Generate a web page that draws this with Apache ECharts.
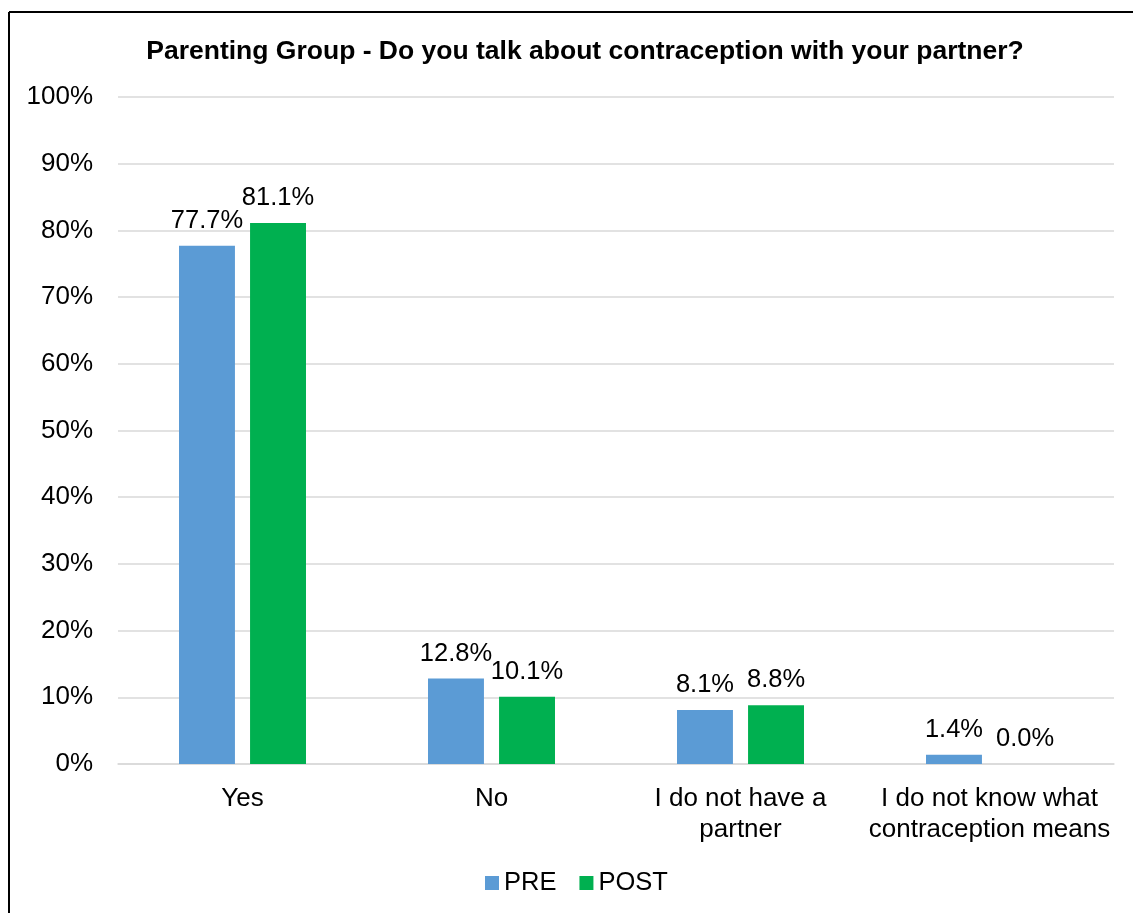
<!DOCTYPE html>
<html>
<head>
<meta charset="utf-8">
<script src="https://cdn.jsdelivr.net/npm/echarts@6/dist/echarts.min.js"></script>
<style>
  html, body { margin: 0; padding: 0; background: #ffffff; }
  #chart { width: 1133px; height: 913px; }
</style>
</head>
<body>
<div id="chart"></div>
<script>
// Survey answers, before and after the parenting group
const categories = ['Yes', 'No', 'I do not have a\npartner', 'I do not know what\ncontraception means'];
const preValues = [77.7, 12.8, 8.1, 1.4];
const postValues = [81.1, 10.1, 8.8, 0.0];
const seriesNames = ['PRE', 'POST'];
const titleText = 'Parenting Group - Do you talk about contraception with your partner?';

const FONT = 'Liberation Sans, Arial, sans-serif';

const chart = echarts.init(document.getElementById('chart'), null, { renderer: 'canvas' });

const labelStyle = {
  show: true,
  position: 'top',
  distance: 12,
  fontFamily: FONT,
  fontSize: 25.5,
  color: '#000000',
  formatter: p => p.value.toFixed(1) + '%'
};

chart.setOption({
  animation: false,
  backgroundColor: '#ffffff',
  title: {
    text: titleText,
    left: 585,
    top: 38,
    textAlign: 'center',
    padding: 0,
    textStyle: { fontFamily: FONT, fontSize: 26.5, fontWeight: 'bold', color: '#000000' }
  },
  legend: {
    data: seriesNames,
    left: 485,
    top: 870,
    padding: 0,
    itemWidth: 14,
    itemHeight: 14,
    itemGap: 23,
    icon: 'rect',
    textStyle: { fontFamily: FONT, fontSize: 25.5, color: '#000000' }
  },
  grid: { left: 118, right: 19, top: 97, bottom: 149, containLabel: false },
  xAxis: {
    type: 'category',
    data: categories,
    axisLine: { show: true, lineStyle: { color: '#D9D9D9', width: 1.5 } },
    axisTick: { show: false },
    axisLabel: {
      fontFamily: FONT, fontSize: 26, color: '#000000',
      margin: 19, lineHeight: 31, interval: 0
    }
  },
  yAxis: {
    type: 'value',
    min: 0,
    max: 100,
    interval: 10,
    axisLine: { show: false },
    axisTick: { show: false },
    splitLine: { lineStyle: { color: '#D9D9D9', width: 1.5 } },
    axisLabel: {
      fontFamily: FONT, fontSize: 26, color: '#000000', margin: 25,
      formatter: v => v + '%'
    }
  },
  series: [
    {
      name: seriesNames[0], type: 'bar', data: preValues,
      itemStyle: { color: '#5B9BD5' },
      barGap: '27%', barCategoryGap: '49%',
      label: labelStyle
    },
    {
      name: seriesNames[1], type: 'bar', data: postValues,
      itemStyle: { color: '#00B050' },
      label: labelStyle
    }
  ],
  graphic: [
    { type: 'line', shape: { x1: 9, y1: 12, x2: 9, y2: 913 }, style: { stroke: '#000000', lineWidth: 2 } },
    { type: 'line', shape: { x1: 9, y1: 12, x2: 1133, y2: 12 }, style: { stroke: '#000000', lineWidth: 2 } }
  ]
});
</script>
</body>
</html>
